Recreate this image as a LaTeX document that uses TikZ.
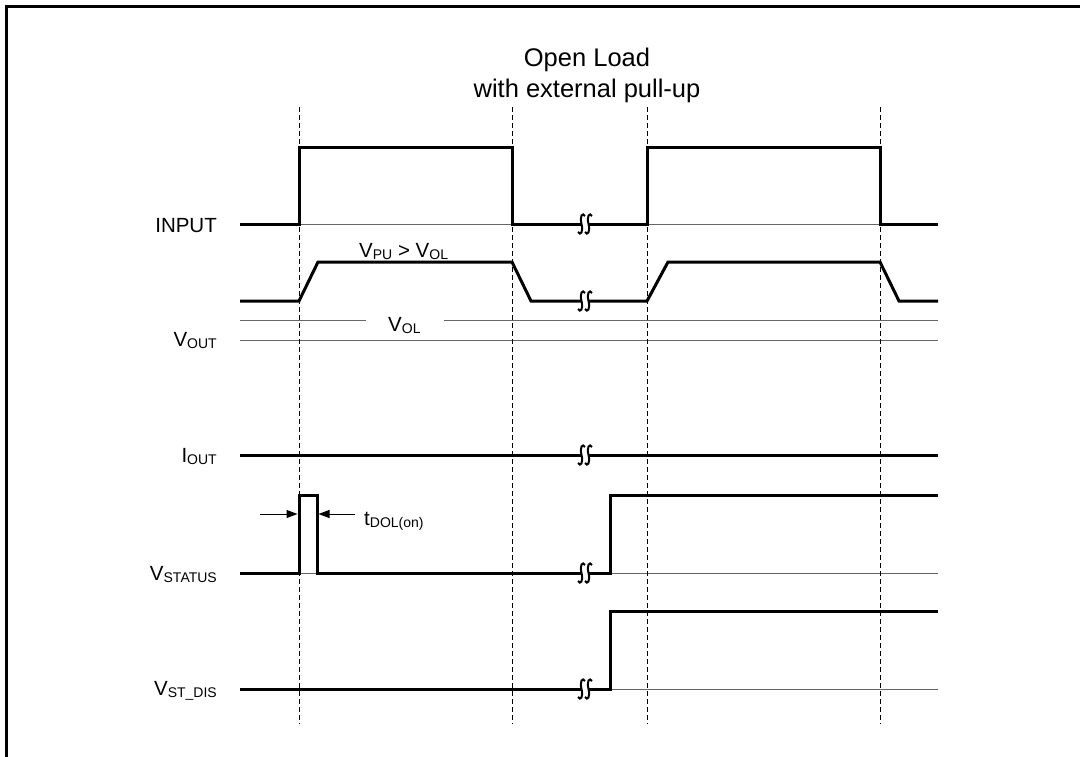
\documentclass[tikz,border=0pt]{standalone}
\usepackage{fontspec}
\setmainfont{Liberation Sans}
\usetikzlibrary{arrows.meta}
\newcommand{\lsub}[1]{\raisebox{-2.5pt}{\fontsize{14}{14}\selectfont #1}}
\newcommand{\squig}[2]{%
  \draw[brk] (#1+3.5,#2-8) .. controls (#1+1,#2-12) and (#1-2,#2-8) .. (#1,#2)
    .. controls (#1+2,#2+8) and (#1-1,#2+12) .. (#1-3.5,#2+8);
}
\newcommand{\wavebreak}[2]{%
  \fill[white] (#1-3.5,#2-2.5) rectangle (#1+3.5,#2+2.5);
  \squig{#1-3.5}{#2}
  \squig{#1+3.5}{#2}
}
\begin{document}
\begin{tikzpicture}[x=1pt,y=-1pt,
  sig/.style={line width=3pt, line join=miter},
  base/.style={line width=1pt, draw=black!60},
  guide/.style={line width=1pt, dash pattern=on 5pt off 3pt},
  brk/.style={line width=2pt},
  lbl/.style={anchor=base east, inner sep=0pt, font=\fontsize{20.5}{20.5}\selectfont},
  txt/.style={anchor=base west, inner sep=0pt, font=\fontsize{20.5}{20.5}\selectfont},
  ttl/.style={anchor=base, inner sep=0pt, font=\fontsize{25.5}{25.5}\selectfont},
  arr/.style={line width=1pt, -{Triangle[length=11pt,width=8pt]}}]
\useasboundingbox (0,0) rectangle (1080,756);
\clip (0,0) rectangle (1080,756);
% frame
\draw[line width=3pt] (1100,6) -- (6,6) -- (6,780);
% title
\node[ttl] (title1) at (587,66) {Open Load};
\node[ttl] (title2) at (587,97) {with external pull-up};
% thin reference lines
\draw[base] (240,224) -- (938,224);
\draw[base] (240,320) -- (366,320);
\draw[base] (444,320) -- (938,320);
\draw[base] (240,340) -- (938,340);
\draw[base] (240,573) -- (938,573);
\draw[base] (240,689) -- (938,689);
% dashed guides
\foreach \x in {299,512,647,880} \draw[guide] (\x,107) -- (\x,724);
% signals
\draw[sig] (240,224) -- (299,224) -- (299,147) -- (512,147) -- (512,224) -- (647,224) -- (647,147) -- (880,147) -- (880,224) -- (938,224);
\draw[sig] (240,301) -- (299,301) -- (318,262) -- (512,262) -- (531,301) -- (647,301) -- (668,262) -- (880,262) -- (899,301) -- (938,301);
\draw[sig] (240,455) -- (938,455);
\draw[sig] (240,573) -- (299,573) -- (299,495) -- (317,495) -- (317,573) -- (610,573) -- (610,495) -- (938,495);
\draw[sig] (240,689) -- (610,689) -- (610,611) -- (938,611);
% breaks
\wavebreak{585}{224}
\wavebreak{585}{301}
\wavebreak{585}{455}
\wavebreak{585}{573}
\wavebreak{585}{689}
% labels
\node[lbl] (input) at (217,232) {INPUT};
\node[lbl] (vout) at (217,346) {V\lsub{OUT}};
\node[lbl] (iout) at (217,462) {I\lsub{OUT}};
\node[lbl] (vstatus) at (217,580) {V\lsub{STATUS}};
\node[lbl] (vstdis) at (217,695) {V\lsub{ST\_DIS}};
\node[txt] (vpu) at (359,257) {V\lsub{PU} > V\lsub{OL}};
\node[txt] (vol) at (388,331) {V\lsub{OL}};
\node[txt] (tdol) at (364,525) {t\lsub{DOL(on)}};
% tDOL arrows
\coordinate (al) at (260,514);
\coordinate (ar) at (355,514);
\coordinate (pl) at (297.5,514);
\coordinate (pr) at (318.5,514);
\draw[arr] (al) -- (pl);
\draw[arr] (ar) -- (pr);
\end{tikzpicture}
\end{document}
